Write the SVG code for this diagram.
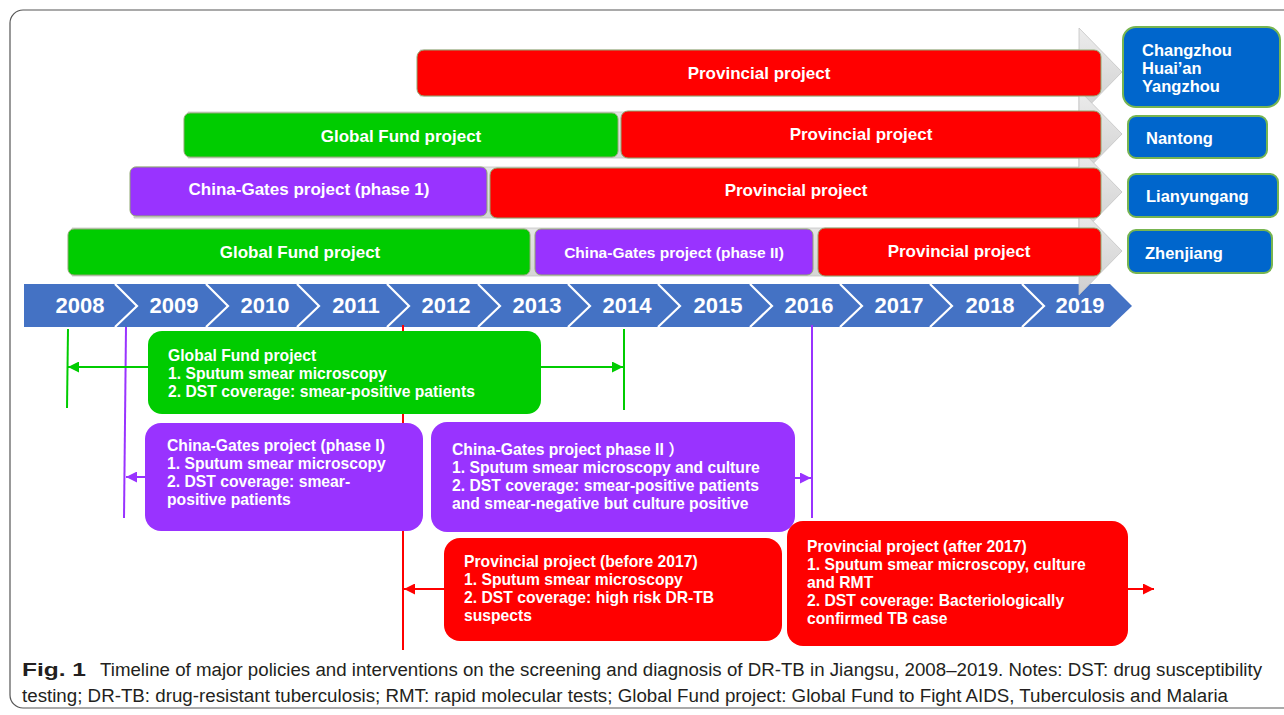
<svg xmlns="http://www.w3.org/2000/svg" width="1284" height="715" viewBox="0 0 1284 715">
<defs>
<style>
.bt{font-family:"Liberation Sans",Arial,sans-serif;font-weight:bold;fill:#fff;}
.bar{stroke:#8fa870;stroke-width:1;}
.g{fill:#00cc00;} .p{fill:#9933ff;} .r{fill:#ff0000;}
.city{fill:#0066cc;stroke:#77b550;stroke-width:2;}
.yr{font-family:"Liberation Sans",Arial,sans-serif;font-weight:bold;font-size:22px;fill:#fff;text-anchor:middle;}
.box{font-family:"Liberation Sans","Noto Sans CJK SC",Arial,sans-serif;font-weight:bold;font-size:15.7px;fill:#fff;}
.cap{font-family:"Liberation Sans",Arial,sans-serif;font-size:18px;fill:#231f20;}
.gh{fill:url(#gry);stroke:#c4c4c4;stroke-width:0.8;}
</style>
<linearGradient id="gry" x1="0" y1="0" x2="0" y2="1">
<stop offset="0" stop-color="#ececec"/><stop offset="1" stop-color="#cfcfcf"/>
</linearGradient>
<marker id="ag" viewBox="0 0 10 10" refX="10" refY="5" markerWidth="12" markerHeight="11" markerUnits="userSpaceOnUse" orient="auto"><path d="M0,0 L10,5 L0,10 z" fill="#00cc00"/></marker>
<marker id="ap" viewBox="0 0 10 10" refX="10" refY="5" markerWidth="12" markerHeight="11" markerUnits="userSpaceOnUse" orient="auto"><path d="M0,0 L10,5 L0,10 z" fill="#9933ff"/></marker>
<marker id="ar" viewBox="0 0 10 10" refX="10" refY="5" markerWidth="12" markerHeight="11" markerUnits="userSpaceOnUse" orient="auto"><path d="M0,0 L10,5 L0,10 z" fill="#ff0000"/></marker>
</defs>
<rect x="0" y="0" width="1284" height="715" fill="#fff"/>
<rect x="10" y="10" width="1300" height="698" rx="13" fill="none" stroke="#555" stroke-width="1.2"/>

<g id="timeline">
<polygon points="24,284 1110,284 1132,306 1110,327 24,327" fill="#4472c4"/>
<g fill="none" stroke="#fff" stroke-width="2.2">
<polyline points="115,284 137,306 115,327"/><polyline points="206,284 228,306 206,327"/>
<polyline points="297,284 319,306 297,327"/><polyline points="387,284 409,306 387,327"/>
<polyline points="478,284 500,306 478,327"/><polyline points="568,284 590,306 568,327"/>
<polyline points="658,284 680,306 658,327"/><polyline points="750,284 772,306 750,327"/>
<polyline points="840,284 862,306 840,327"/><polyline points="930,284 952,306 930,327"/>
<polyline points="1022,284 1044,306 1022,327"/>
</g>
<text class="yr" x="80" y="313">2008</text><text class="yr" x="174" y="313">2009</text>
<text class="yr" x="265" y="313">2010</text><text class="yr" x="356" y="313">2011</text>
<text class="yr" x="446" y="313">2012</text><text class="yr" x="537" y="313">2013</text>
<text class="yr" x="627" y="313">2014</text><text class="yr" x="718" y="313">2015</text>
<text class="yr" x="809" y="313">2016</text><text class="yr" x="899" y="313">2017</text>
<text class="yr" x="990" y="313">2018</text><text class="yr" x="1080" y="313">2019</text>
</g>

<g id="row-arrows">
<polygon class="gh" points="420,50 1079,50 1079,28 1122,72 1079,116 1079,96 420,96"/>
<polygon class="gh" points="188,112 1079,112 1079,90 1122,134 1079,178 1079,158 188,158"/>
<polygon class="gh" points="134,167 1079,167 1079,148 1122,192 1079,236 1079,218 134,218"/>
<polygon class="gh" points="72,228 1079,228 1079,207 1122,251 1079,295 1079,276 72,276"/>
</g>

<g id="row1">
<rect class="bar r" x="417" y="50" width="684" height="46" rx="7"/>
<text class="bt" x="759" y="79" font-size="17" text-anchor="middle">Provincial project</text>
</g>
<g id="row2">
<rect class="bar g" x="184" y="113" width="434" height="44" rx="6"/>
<text class="bt" x="401" y="142" font-size="17" text-anchor="middle">Global Fund project</text>
<rect class="bar r" x="621" y="111" width="480" height="47" rx="7"/>
<text class="bt" x="861" y="140" font-size="17" text-anchor="middle">Provincial project</text>
</g>
<g id="row3">
<rect class="bar p" x="130" y="167" width="357" height="49" rx="6"/>
<text class="bt" x="309" y="195" font-size="17" text-anchor="middle">China-Gates project (phase 1)</text>
<rect class="bar r" x="490" y="168" width="611" height="50" rx="7"/>
<text class="bt" x="796" y="196" font-size="17" text-anchor="middle">Provincial project</text>
</g>
<g id="row4">
<rect class="bar g" x="68" y="229" width="462" height="46" rx="6"/>
<text class="bt" x="300" y="258" font-size="17" text-anchor="middle">Global Fund project</text>
<rect class="bar p" x="535" y="229" width="278" height="46" rx="6"/>
<text class="bt" x="674" y="258" font-size="15.5" text-anchor="middle">China-Gates project (phase II)</text>
<rect class="bar r" x="818" y="228" width="283" height="48" rx="7"/>
<text class="bt" x="959" y="257" font-size="17" text-anchor="middle">Provincial project</text>
</g>

<g id="city-changzhou">
<rect class="city" x="1123" y="27" width="157" height="80" rx="13"/>
<text class="bt" font-size="16.5"><tspan x="1142" y="56">Changzhou</tspan><tspan x="1142" y="74">Huai’an</tspan><tspan x="1142" y="92">Yangzhou</tspan></text>
</g>
<g id="city-nantong">
<rect class="city" x="1128" y="116" width="139" height="42" rx="8"/>
<text class="bt" font-size="16.5" x="1146" y="144">Nantong</text>
</g>
<g id="city-lianyungang">
<rect class="city" x="1128" y="174" width="150" height="43" rx="8"/>
<text class="bt" font-size="16.5" x="1146" y="202">Lianyungang</text>
</g>
<g id="city-zhenjiang">
<rect class="city" x="1128" y="230" width="144" height="43" rx="8"/>
<text class="bt" font-size="16.5" x="1145" y="259">Zhenjiang</text>
</g>

<g id="connectors" stroke-width="2" fill="none">
<line x1="68" y1="329" x2="67" y2="408" stroke="#00cc00"/>
<line x1="624" y1="329" x2="624" y2="410" stroke="#00cc00"/>
<line x1="126" y1="327" x2="124" y2="518" stroke="#9933ff"/>
<line x1="812" y1="325" x2="812" y2="518" stroke="#9933ff"/>
<line x1="403" y1="325" x2="403" y2="650" stroke="#ff0000"/>
<line x1="148" y1="367" x2="68" y2="367" stroke="#00cc00" marker-end="url(#ag)"/>
<line x1="541" y1="367" x2="623" y2="367" stroke="#00cc00" marker-end="url(#ag)"/>
<line x1="145" y1="477" x2="126" y2="477" stroke="#9933ff" marker-end="url(#ap)"/>
<line x1="795" y1="478" x2="811" y2="478" stroke="#9933ff" marker-end="url(#ap)"/>
<line x1="444" y1="589" x2="404" y2="589" stroke="#ff0000" marker-end="url(#ar)"/>
<line x1="1128" y1="589" x2="1154" y2="589" stroke="#ff0000" marker-end="url(#ar)"/>
</g>

<g id="box-globalfund">
<rect x="148" y="331" width="393" height="83" rx="14" fill="#00cc00"/>
<text class="box"><tspan x="168" y="361">Global Fund project</tspan><tspan x="168" y="379">1. Sputum smear microscopy</tspan><tspan x="168" y="397">2. DST coverage: smear-positive patients</tspan></text>
</g>
<g id="box-gates1">
<rect x="145" y="423" width="278" height="108" rx="16" fill="#9933ff"/>
<text class="box"><tspan x="167" y="451">China-Gates project (phase I)</tspan><tspan x="167" y="469">1. Sputum smear microscopy</tspan><tspan x="167" y="487">2. DST coverage: smear-</tspan><tspan x="167" y="505">positive patients</tspan></text>
</g>
<g id="box-gates2">
<rect x="431" y="422" width="364" height="110" rx="16" fill="#9933ff"/>
<text class="box"><tspan x="452" y="455">China-Gates project phase II ）</tspan><tspan x="452" y="473">1. Sputum smear microscopy and culture</tspan><tspan x="452" y="491">2. DST coverage: smear-positive patients</tspan><tspan x="452" y="509">and smear-negative but culture positive</tspan></text>
</g>
<g id="box-prov-before">
<rect x="444" y="538" width="338" height="103" rx="16" fill="#ff0000"/>
<text class="box"><tspan x="464" y="567">Provincial project (before 2017)</tspan><tspan x="464" y="585">1. Sputum smear microscopy</tspan><tspan x="464" y="603">2. DST coverage: high risk DR-TB</tspan><tspan x="464" y="621">suspects</tspan></text>
</g>
<g id="box-prov-after">
<rect x="787" y="521" width="341" height="125" rx="16" fill="#ff0000"/>
<text class="box"><tspan x="807" y="552">Provincial project (after 2017)</tspan><tspan x="807" y="570">1. Sputum smear microscopy, culture</tspan><tspan x="807" y="588">and RMT</tspan><tspan x="807" y="606">2. DST coverage: Bacteriologically</tspan><tspan x="807" y="624">confirmed TB case</tspan></text>
</g>

<g id="caption">
<text class="cap" x="22" y="676" font-weight="bold" font-size="19" textLength="64" lengthAdjust="spacingAndGlyphs">Fig. 1</text>
<text class="cap" x="100" y="676" textLength="1162" lengthAdjust="spacingAndGlyphs">Timeline of major policies and interventions on the screening and diagnosis of DR-TB in Jiangsu, 2008–2019. Notes: DST: drug susceptibility</text>
<text class="cap" x="22" y="702" textLength="1206" lengthAdjust="spacingAndGlyphs">testing; DR-TB: drug-resistant tuberculosis; RMT: rapid molecular tests; Global Fund project: Global Fund to Fight AIDS, Tuberculosis and Malaria</text>
</g>
</svg>
